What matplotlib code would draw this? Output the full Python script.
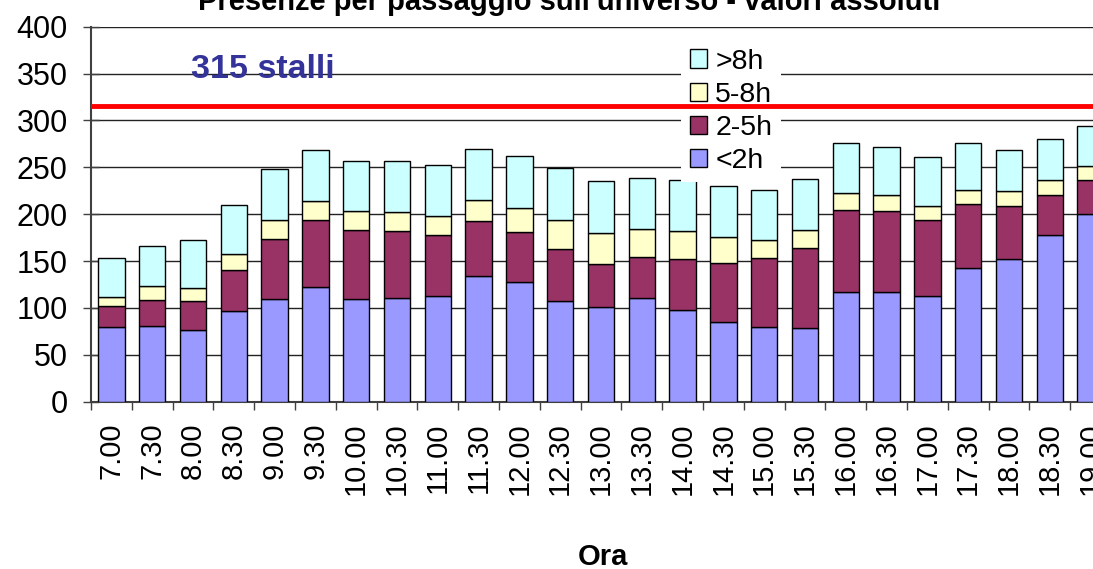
import matplotlib
matplotlib.use("Agg")
import matplotlib.pyplot as plt
import numpy as np

plt.rcParams["font.family"] = ["Liberation Sans", "DejaVu Sans"]

ore = ["7.00", "7.30", "8.00", "8.30", "9.00", "9.30", "10.00", "10.30",
       "11.00", "11.30", "12.00", "12.30", "13.00", "13.30", "14.00", "14.30",
       "15.00", "15.30", "16.00", "16.30", "17.00", "17.30", "18.00", "18.30",
       "19.00"]
meno_2h = [80, 81, 76, 97, 110, 122, 110, 111, 113, 134, 128, 107, 101, 111,
           98, 85, 80, 79, 117, 117, 113, 143, 152, 178, 200]
da_2_5h = [22, 28, 31, 43, 64, 72, 73, 71, 65, 59, 53, 56, 46, 43, 54, 63, 73,
           85, 87, 86, 81, 68, 57, 43, 36]
da_5_8h = [10, 14, 14, 18, 20, 20, 20, 20, 20, 22, 26, 31, 33, 30, 30, 28, 20,
           19, 19, 17, 15, 15, 16, 15, 15]
oltre_8h = [41, 43, 51, 52, 54, 54, 54, 55, 55, 55, 55, 55, 55, 55, 54, 54, 53,
            55, 53, 52, 52, 50, 43, 44, 43]
stalli = 315

serie = [("<2h", meno_2h, "#9999FF"), ("2-5h", da_2_5h, "#993366"),
         ("5-8h", da_5_8h, "#FFFFCC"), (">8h", oltre_8h, "#CCFFFF")]

W, H = 1093, 569
fig = plt.figure(figsize=(W / 100, H / 100), dpi=100)
# axes runs past the right edge, as in the cropped original
ax = fig.add_axes([91 / W, 167.3 / H, 1020 / W, 375 / H])

x = np.arange(len(ore))
bottom = np.zeros(len(ore))
handles = []
for nome, vals, col in serie:
    b = ax.bar(x, vals, width=0.65, bottom=bottom, color=col,
               edgecolor="black", linewidth=1, label=nome, zorder=3)
    handles.append(b)
    bottom += np.array(vals)

ax.axhline(stalli, color="#FF0000", linewidth=3.5, zorder=10)
ax.text(1.95, 345, "%d stalli" % stalli, color="#333399", fontsize=24.5,
        fontweight="bold", va="baseline", ha="left", zorder=4)

ax.set_xlim(-0.5, len(ore) - 0.5)
ax.set_ylim(0, 400)
ax.set_yticks(np.arange(0, 401, 50))
ax.yaxis.grid(True, color="#222222", linewidth=1, zorder=0)
ax.set_axisbelow(True)
ax.tick_params(axis="y", direction="inout", length=11.5, width=1,
               labelsize=22, pad=11, color="#404040")

ax.set_xticks(x)
ax.set_xticklabels(ore, rotation=90, fontsize=21)
ax.tick_params(axis="x", which="major", length=0, pad=15)
ax.set_xticks(np.arange(-0.5, len(ore), 1), minor=True)
ax.tick_params(axis="x", which="minor", direction="out", length=6,
               width=1, color="#404040")

for s in ("top", "right"):
    ax.spines[s].set_visible(False)
for s in ("left", "bottom"):
    ax.spines[s].set_color("#404040")
    ax.spines[s].set_linewidth(1.5)

leg = ax.legend(handles[::-1], [h.get_label() for h in handles[::-1]],
                loc="upper left", bbox_to_anchor=(681 / W, 1 - 40 / H),
                bbox_transform=fig.transFigure, fontsize=20.5, frameon=True,
                fancybox=False, framealpha=1, edgecolor="none",
                facecolor="white", borderaxespad=0, borderpad=0.3,
                labelspacing=0.25, handlelength=0.6, handleheight=0.6,
                handletextpad=0.3)
leg.set_zorder(5)

fig.text(569 / W, 1 - 10 / H,
         "Presenze per passaggio sull'universo - valori assoluti",
         ha="center", va="baseline", fontsize=21, fontweight="bold")
fig.text(603 / W, 1 - 557 / H, "Ora", ha="center", va="center",
         fontsize=21, fontweight="bold")

fig.savefig("out.png", dpi=100)
